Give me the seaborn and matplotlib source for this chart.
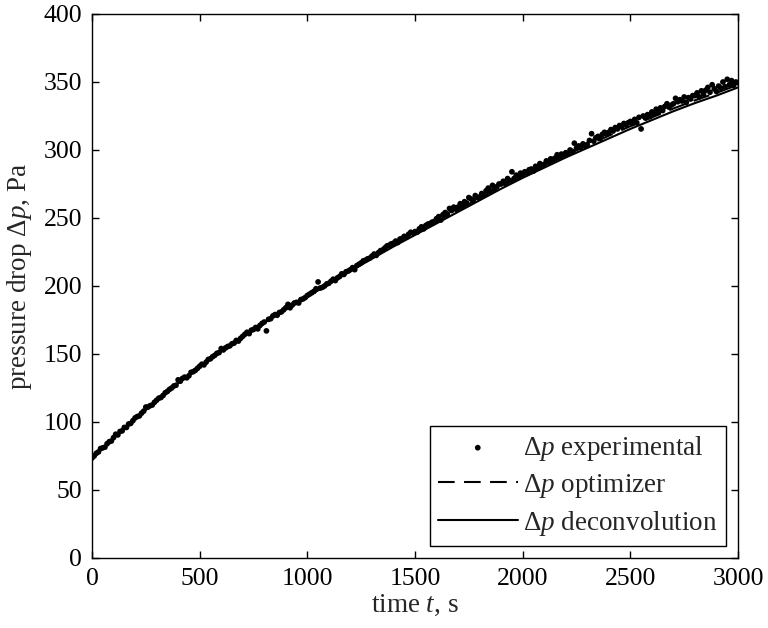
import numpy as np
import pandas as pd
import matplotlib
matplotlib.use("Agg")
import matplotlib.pyplot as plt
import seaborn as sns

# ---- data -------------------------------------------------------------
t_exp = list(range(0, 3001, 10))
dp_exp = [
    73.5, 75, 77, 78, 80.5, 81, 81.5, 84, 85.5, 86,
    88.5, 91, 90.5, 93, 93.5, 96, 96, 98.5, 99, 101,
    103, 104, 104.5, 106.5, 108, 111, 111, 112, 112.5, 114.5,
    116, 117.5, 118, 119.5, 121.5, 122.5, 124, 125, 126.5, 127,
    131, 130, 132, 133, 132.5, 134, 136.5, 137, 138, 139.5,
    141, 142.5, 142, 144, 146, 146.5, 148, 149, 150.5, 151,
    154, 153, 154.5, 155.5, 156, 157.5, 158, 160, 159.5, 161.5,
    163, 164.5, 166, 165, 167.5, 168, 169.5, 168.5, 171, 172.5,
    173.5, 167, 175.5, 176, 178, 179, 178.5, 180.5, 181, 182.5,
    184, 186.5, 184, 186, 187.5, 188, 187.5, 190, 190.5, 191.5,
    193, 194, 195, 196, 198, 203, 198.5, 199, 200, 201.5,
    202, 203.5, 205, 204, 206, 207, 209, 208.5, 210.5, 211,
    212, 213.5, 212, 215, 216, 217, 218.5, 219, 220, 220.5,
    222, 223.5, 222.5, 224.5, 226, 226.5, 228, 229.5, 230, 231,
    231.5, 233, 232, 234.5, 235, 236.5, 236, 238, 239.5, 239,
    240, 239.5, 242, 243.5, 242, 244.5, 245.5, 246, 247, 247.5,
    249.5, 251, 248.5, 252.5, 254, 253, 257, 255.5, 258, 256.5,
    258, 260.5, 259, 262, 261, 265, 264, 263, 266.5, 265,
    265.5, 268, 267, 270, 272, 270, 274, 271.5, 273, 275,
    275, 277, 276, 279, 277.5, 284, 279, 281.5, 280, 283,
    281.5, 284, 283, 285.5, 286, 284.5, 288, 287, 290, 289,
    289.5, 292, 291, 293.5, 293, 294, 296.5, 295, 297, 296.5,
    298, 297, 300, 299, 305, 301.5, 303, 302, 304.5, 303,
    304, 307, 312, 306.5, 309, 310, 308.5, 311.5, 313, 312,
    313, 315, 314, 316.5, 315.5, 318, 317, 319.5, 318.5, 320,
    321, 319.5, 322.5, 320, 324, 315.5, 325, 323.5, 326, 324.5,
    328, 326.5, 330, 327.5, 331, 329, 332, 334, 331.5, 333,
    334, 338, 335.5, 337, 336, 339, 335, 338.5, 337.5, 340,
    340, 342, 339, 343.5, 341, 344, 346, 342.5, 348, 345,
    343, 347, 345.5, 350, 346.5, 352, 348, 351, 347.5, 350,
    349.5,
]

t_model = list(range(0, 3001, 100))
dp_optimizer = [
    74, 88.5, 102.5, 116, 129, 141, 152.5, 163, 173.5, 183.5,
    193, 202.5, 212, 221, 230, 239, 247.5, 256, 264.5, 273,
    281, 288.5, 296, 303.5, 310.5, 317.5, 324, 330.5, 336.5, 342,
    348,
]
dp_deconvolution = [
    73, 88, 102, 115.5, 128.5, 140.5, 152, 162.5, 173, 183,
    192, 201.5, 211, 220, 229, 237.5, 246, 254.5, 263, 271.5,
    279.5, 287, 294.5, 301.5, 308.5, 315.5, 322, 328.5, 334.5, 340,
    346,
]

x_ticks = [0, 500, 1000, 1500, 2000, 2500, 3000]
y_ticks = [0, 50, 100, 150, 200, 250, 300, 350, 400]

# ---- style ------------------------------------------------------------
sns.set_style("ticks")
plt.rcParams["font.family"] = ["Liberation Serif", "DejaVu Serif"]
plt.rcParams["mathtext.fontset"] = "custom"
plt.rcParams["mathtext.rm"] = "Liberation Serif"
plt.rcParams["mathtext.it"] = "Liberation Serif:italic"
plt.rcParams["axes.linewidth"] = 1.0
plt.rcParams["axes.edgecolor"] = "black"

fs_tick = 18.5
fs_label = 19.5

fig = plt.figure(figsize=(7.68, 6.28), dpi=100)
ax = fig.add_axes([92 / 768, 1 - 558 / 628, (738 - 92) / 768, (558 - 14) / 628])

df_exp = pd.DataFrame({"t": t_exp, "dp": dp_exp})
df_opt = pd.DataFrame({"t": t_model, "dp": dp_optimizer})
df_dec = pd.DataFrame({"t": t_model, "dp": dp_deconvolution})

sns.scatterplot(data=df_exp, x="t", y="dp", ax=ax, color="black", s=17,
                edgecolor="none", linewidth=0, label=r"Δ$p$ experimental", zorder=3)
sns.lineplot(data=df_opt, x="t", y="dp", ax=ax, color="black", linewidth=1.5,
             label=r"Δ$p$ optimizer", zorder=2)
ax.lines[-1].set_dashes([8, 4.5])
sns.lineplot(data=df_dec, x="t", y="dp", ax=ax, color="black", linewidth=1.5,
             label=r"Δ$p$ deconvolution", zorder=2)

ax.set_xlim(0, 3000)
ax.set_ylim(0, 400)
ax.set_xticks(x_ticks)
ax.set_yticks(y_ticks)
ax.tick_params(direction="in", top=True, right=True, length=5, width=1.0,
               labelsize=fs_tick, colors="black")
ax.tick_params(axis="x", pad=7)
ax.tick_params(axis="y", pad=7)
for s in ax.spines.values():
    s.set_visible(True)
    s.set_color("black")

ax.set_xlabel(r"time $t$, s", fontsize=fs_label, labelpad=2)
ax.set_ylabel(r"pressure drop Δ$p$, Pa", fontsize=fs_label, labelpad=7)
ax.yaxis.label.set_y(0.518)

handles, labels = ax.get_legend_handles_labels()
handles[1].set_dashes([8, 4.5])
leg = ax.legend(handles, labels, loc="lower right", fontsize=fs_label, frameon=True,
                fancybox=False, framealpha=1, edgecolor="black",
                handlelength=2.95, handletextpad=0.2, borderpad=0.3,
                labelspacing=0.33, borderaxespad=0.45, markerscale=1.0)
leg.get_frame().set_linewidth(1.0)

fig.savefig("out.png", dpi=100)
